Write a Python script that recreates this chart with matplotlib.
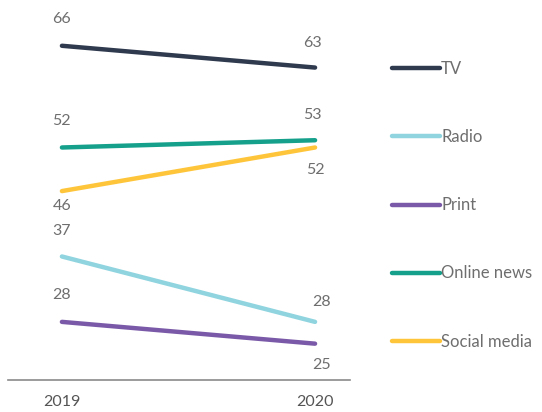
import matplotlib.pyplot as plt

plt.rcParams['font.family'] = ['Lato', 'DejaVu Sans']

# values
years = ['2019', '2020']
media = ['TV', 'Radio', 'Print', 'Online news', 'Social media']
values_2019 = [66, 37, 28, 52, 46]
values_2020 = [63, 28, 25, 53, 52]

colors = ['#2f3a4e', '#8fd4df', '#7a5aa8', '#14a08b', '#fec53b']
# label offsets in points (negative = below line)
offset_2019 = [19, 18, 19, 19, -11]
offset_2020 = [18, 14, -15, 18, -16]
xshift_2020 = [-2, 5, 5, -2, 0]

fig = plt.figure(figsize=(5.42, 4.12), dpi=100)
ax = fig.add_axes([8 / 542, 32 / 412, 342 / 542, 380 / 412])

x = [0, 1]
for i, name in enumerate(media):
    ax.plot(x, [values_2019[i], values_2020[i]], color=colors[i], lw=3.2,
            solid_capstyle='round', label=name)
    ax.annotate(str(values_2019[i]), (0, values_2019[i]), xytext=(0, offset_2019[i]),
                textcoords='offset points', ha='center', va='center',
                fontsize=11.5, color='#6e6e6e')
    ax.annotate(str(values_2020[i]), (1, values_2020[i]), xytext=(xshift_2020[i], offset_2020[i]),
                textcoords='offset points', ha='center', va='center',
                fontsize=11.5, color='#6e6e6e')

ax.set_xlim(-0.213, 1.138)
ax.set_ylim(20, 72.3)
ax.set_xticks(x)
ax.set_xticklabels(years, fontsize=11.5, color='#555555')
ax.tick_params(axis='x', length=0, pad=11)
ax.set_yticks([])
for s in ['top', 'right', 'left']:
    ax.spines[s].set_visible(False)
ax.spines['bottom'].set_color('#8a8a8a')
ax.spines['bottom'].set_linewidth(1.2)

fig.legend(loc='upper left', bbox_to_anchor=(392 / 542, 1 - 61 / 412), frameon=False,
           fontsize=12, labelcolor='#6e6e6e', handlelength=2.9, handletextpad=0.05,
           labelspacing=3.13, borderpad=0, borderaxespad=0)

fig.savefig('out.png', dpi=100)
